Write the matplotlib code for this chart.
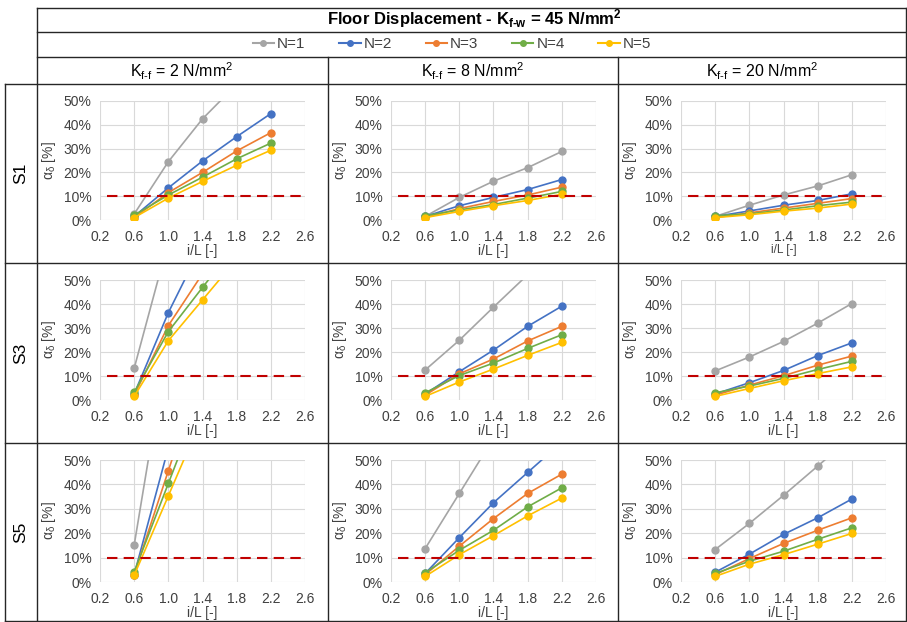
import matplotlib
matplotlib.use("Agg")
import matplotlib.pyplot as plt
from matplotlib.lines import Line2D
from matplotlib.ticker import PercentFormatter, FormatStrFormatter

plt.rcParams['font.family'] = ['Liberation Sans', 'DejaVu Sans']
plt.rcParams['mathtext.fontset'] = 'custom'
plt.rcParams['mathtext.rm'] = 'Liberation Sans'
plt.rcParams['mathtext.it'] = 'Liberation Sans:italic'
plt.rcParams['mathtext.bf'] = 'Liberation Sans:bold'

# ---------------- data ----------------
x_vals = [0.6, 1.0, 1.4, 1.8, 2.2]
series_names = ["N=1", "N=2", "N=3", "N=4", "N=5"]
row_labels = ["S1", "S3", "S5"]
col_labels = ["2", "8", "20"]
threshold = 10.0

# values in %, one list per series (N=1..N=5)
s1_k2 = [[2.5, 24.5, 42.5, 57, 72],
         [1.5, 13.5, 24.8, 35.0, 44.7],
         [1.0, 11.5, 20.0, 29.0, 36.7],
         [2.0, 10.5, 18.0, 25.7, 32.3],
         [1.0, 9.2, 16.2, 23.0, 29.3]]
s1_k8 = [[1.5, 9.5, 16.3, 22.0, 28.8],
         [1.5, 6.0, 9.5, 12.8, 17.0],
         [1.0, 4.8, 7.8, 10.5, 13.8],
         [1.8, 4.2, 6.5, 9.2, 12.0],
         [1.0, 3.6, 6.0, 8.2, 10.8]]
s1_k20 = [[1.5, 6.2, 10.5, 14.3, 19.0],
          [1.5, 3.8, 6.2, 8.2, 11.0],
          [1.0, 3.0, 5.0, 7.0, 9.0],
          [1.8, 2.6, 4.2, 6.0, 7.5],
          [1.0, 2.2, 3.7, 5.0, 6.7]]
s3_k2 = [[13.2, 66, 110, 150, 190],
         [2.5, 36.4, 65, 90, 115],
         [2.0, 31.0, 52.6, 74, 95],
         [3.2, 28.5, 46.9, 65, 83],
         [1.5, 24.7, 41.7, 58.7, 75]]
s3_k8 = [[12.5, 24.9, 38.7, 52.2, 66],
         [2.5, 11.8, 20.8, 30.7, 39.1],
         [2.0, 10.9, 17.1, 24.6, 30.7],
         [3.0, 10.2, 15.4, 21.5, 27.2],
         [1.5, 7.5, 12.9, 18.6, 24.0]]
s3_k20 = [[12.1, 17.9, 24.4, 32.0, 40.2],
          [2.5, 7.2, 12.3, 18.5, 23.8],
          [2.0, 6.2, 10.1, 14.5, 18.3],
          [3.0, 5.8, 9.0, 12.7, 16.1],
          [1.5, 4.8, 8.0, 11.0, 13.8]]
s5_k2 = [[15.1, 99.6, 180, 260, 340],
         [3.0, 55, 105, 155, 205],
         [3.0, 45.6, 88, 130, 172],
         [4.1, 40.4, 76.7, 113, 150],
         [2.7, 35.3, 67.9, 100, 133]]
s5_k8 = [[13.7, 36.3, 58.9, 81.5, 104],
         [3.5, 18.2, 32.5, 44.9, 57.3],
         [3.0, 14.7, 26.0, 36.3, 44.2],
         [3.8, 13.0, 21.2, 30.8, 38.6],
         [2.3, 11.2, 19.0, 27.1, 34.4]]
s5_k20 = [[13.3, 24.0, 35.5, 47.5, 59.5],
          [4.0, 11.4, 19.5, 26.3, 34.0],
          [3.0, 9.6, 15.8, 21.2, 26.3],
          [3.5, 8.5, 12.6, 17.5, 22.2],
          [2.3, 7.3, 11.2, 15.5, 19.9]]

panels = [[s1_k2, s1_k8, s1_k20],
          [s3_k2, s3_k8, s3_k20],
          [s5_k2, s5_k8, s5_k20]]

colors = ["#A5A5A5", "#4472C4", "#ED7D31", "#70AD47", "#FFC000"]
red = "#C00000"

W, H = 907, 622
fig = plt.figure(figsize=(W / 100, H / 100), dpi=100)

# background axes in pixel coordinates for table lines
bg = fig.add_axes([0, 0, 1, 1], zorder=0)
bg.set_xlim(0, W)
bg.set_ylim(H, 0)
bg.axis('off')

lc = "#262626"
lw = 1.0
bg.plot([37, 906], [8, 8], color=lc, lw=lw)
bg.plot([37, 906], [32, 32], color=lc, lw=lw)
bg.plot([37, 906], [57, 57], color=lc, lw=lw)
bg.plot([5, 906], [84, 84], color=lc, lw=lw)
bg.plot([5, 906], [263, 263], color=lc, lw=lw)
bg.plot([5, 906], [443, 443], color=lc, lw=lw)
bg.plot([5, 906], [621, 621], color=lc, lw=lw)
bg.plot([37, 37], [8, 621], color=lc, lw=lw)
bg.plot([906, 906], [8, 621], color=lc, lw=lw)
bg.plot([5, 5], [84, 621], color=lc, lw=lw)
bg.plot([328, 328], [57, 621], color=lc, lw=lw)
bg.plot([618, 618], [57, 621], color=lc, lw=lw)

hy = "\u2010"
# title
bg.text(474, 19, r"Floor Displacement - K$_{\mathregular{f" + hy + r"w}}$ = 45 N/mm$^{\mathregular{2}}$",
        ha='center', va='center', fontsize=12, fontweight='bold', color='black')

# column headers
col_centers = [182, 473, 762]
for cx, k in zip(col_centers, col_labels):
    bg.text(cx, 71, r"K$_{\mathregular{f" + hy + r"f}}$ = " + k + r" N/mm$^{\mathregular{2}}$",
            ha='center', va='center', fontsize=11.5, color='black')

# row labels
row_centers = [173, 353, 532]
for cy, r in zip(row_centers, row_labels):
    bg.text(21, cy, r, ha='center', va='center', rotation=90, fontsize=12.5, color='black')

# subplot axes
col_lr = [(100, 305), (391, 596), (681, 886)]
row_tb = [(101, 220), (280, 400), (460, 582)]

for i in range(3):
    for j in range(3):
        l, r = col_lr[j]
        t, b = row_tb[i]
        ax = fig.add_axes([l / W, 1 - b / H, (r - l) / W, (b - t) / H], zorder=2)
        ax.set_xlim(0.2, 2.6)
        ax.set_ylim(0, 50)
        ax.set_xticks([0.2, 0.6, 1.0, 1.4, 1.8, 2.2, 2.6])
        ax.set_yticks([0, 10, 20, 30, 40, 50])
        ax.yaxis.set_major_formatter(PercentFormatter(decimals=0))
        ax.xaxis.set_major_formatter(FormatStrFormatter('%.1f'))
        ax.grid(True, color="#D9D9D9", lw=0.8)
        ax.set_axisbelow(True)
        for sp in ax.spines.values():
            sp.set_visible(False)
        ax.tick_params(axis='y', length=0, labelsize=10, colors="#404040", pad=6)
        ax.tick_params(axis='x', length=0, labelsize=10, colors="#404040", pad=7)
        xl_fs = 8.5 if (i == 0 and j == 2) else 10
        ax.set_xlabel("i/L [-]", fontsize=xl_fs, color="#404040", labelpad=0)
        ax.set_ylabel(r"$\mathregular{\alpha_{\delta}}$ [%]", fontsize=10, color="#404040", labelpad=4)
        ax.patch.set_alpha(0)
        data = panels[i][j]
        for k in range(5):
            ax.plot(x_vals, data[k], color=colors[k], lw=1.2, marker='o',
                    markersize=5, zorder=3 + k)
        ax.plot([0.28, 2.55], [threshold, threshold], color=red, lw=1.5,
                ls=(0, (5, 3)), zorder=10)

# legend
handles = [Line2D([0], [0], color=c, lw=1.5, marker='o', markersize=4) for c in colors]
fig.legend(handles, series_names, loc='center', bbox_to_anchor=(452 / W, 1 - 44.5 / H),
           ncol=5, frameon=False, fontsize=11, handlelength=1.4, handletextpad=0.2,
           columnspacing=2.2, labelcolor="#404040")

fig.savefig("out.png", dpi=100)
